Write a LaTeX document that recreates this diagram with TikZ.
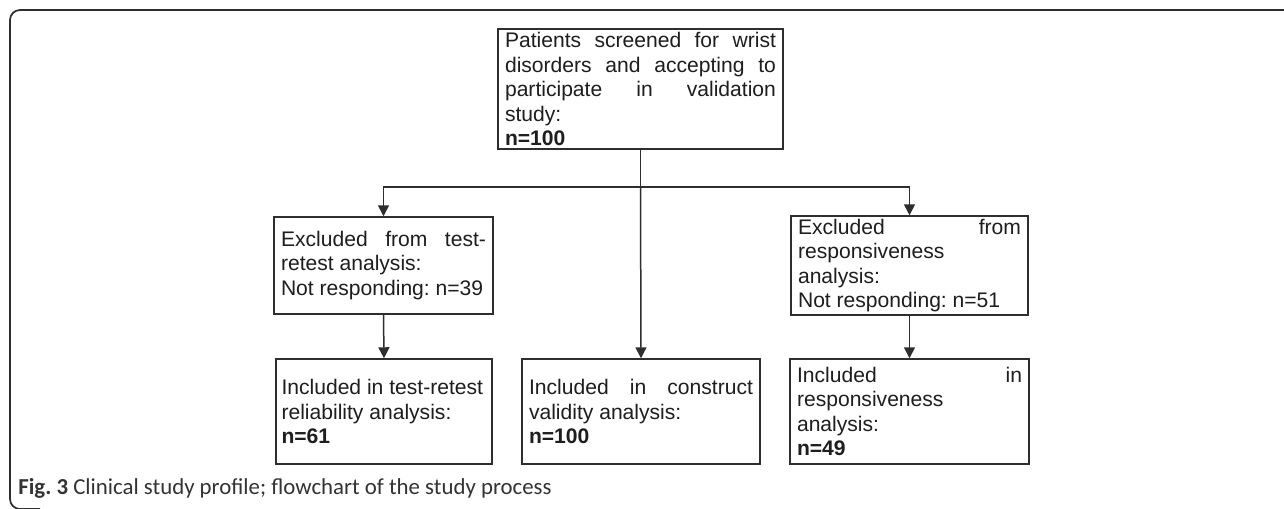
\documentclass[tikz,border=0pt]{standalone}
\usepackage{fontspec}
\usetikzlibrary{arrows.meta}
\newfontfamily\arialfont{Liberation Sans}
\newfontfamily\capfont{Carlito}
\definecolor{lineclr}{HTML}{2E2E2E}
\definecolor{txtclr}{HTML}{1E1E1E}
\definecolor{capclr}{HTML}{333333}
\newcommand{\rsp}{\spaceskip=0pt\xspaceskip=0pt\frenchspacing}
\newcommand{\jl}[1]{\makebox[\hsize][s]{\rsp #1}}
\tikzset{
  fbox/.style={draw=lineclr, line width=0.03cm, rectangle, align=left,
    inner xsep=0.1cm, inner ysep=0pt, text=txtclr,
    font=\arialfont\fontsize{12}{13.94}\selectfont},
  arr/.style={draw=lineclr, line width=0.03cm, -{Triangle[length=0.22cm,width=0.22cm]}},
  conn/.style={draw=lineclr, line width=0.03cm},
  frameline/.style={draw=lineclr, line width=0.035cm, rounded corners=0.2cm}
}
\begin{document}
\begin{tikzpicture}[x=0.02cm, y=-0.02cm]
\useasboundingbox[fill=white] (0,0) rectangle (1284,508);
\draw[frameline] (1300,10) -- (10,10) -- (10,509) -- (40,509);

\node[fbox, minimum width=5.7cm, text width=5.42cm, minimum height=2.4cm] (top) at (640.5,89)
 {\rsp\jl{Patients screened for wrist}\\\jl{disorders and accepting to}\\\jl{participate in validation}\\study:\\\textbf{n=100}};

\node[fbox, minimum width=4.38cm, text width=4.10cm, minimum height=1.94cm] (ex1) at (383.5,265.5)
 {\rsp\jl{Excluded from test-}\\retest analysis:\\Not responding: n=39};

\node[fbox, minimum width=4.74cm, text width=4.46cm, minimum height=1.98cm] (ex2) at (909.5,265.5)
 {\rsp\jl{Excluded from}\\responsiveness\\analysis:\\Not responding: n=51};

\node[fbox, minimum width=4.32cm, text width=4.10cm, minimum height=2.1cm] (inc1) at (384,411.5)
 {\rsp Included in test-retest\\reliability analysis:\\\textbf{n=61}};

\node[fbox, minimum width=4.76cm, text width=4.48cm, minimum height=2.1cm] (inc2) at (641,411.5)
 {\rsp\jl{Included in construct}\\validity analysis:\\\textbf{n=100}};

\node[fbox, minimum width=4.78cm, text width=4.50cm, minimum height=2.1cm] (inc3) at (909.5,411.5)
 {\rsp\jl{Included in}\\responsiveness\\analysis:\\\textbf{n=49}};

\coordinate (hub) at (top.south |- 0,187);
\draw[conn] (top.south) -- (hub);
\draw[arr] (hub) -| (ex1.north);
\draw[arr] (hub) -| (ex2.north);
\draw[arr] (hub) -- (inc2.north);
\draw[arr] (ex1.south) -- (inc1.north);
\draw[arr] (ex2.south) -- (inc3.north);

\node[anchor=base west, inner sep=0pt, text=capclr, font=\capfont\fontsize{13}{15}\selectfont] (cap) at (18,494)
 {\frenchspacing\textbf{Fig.\ 3} Clinical study profile; flowchart of the study process};
\end{tikzpicture}
\end{document}
